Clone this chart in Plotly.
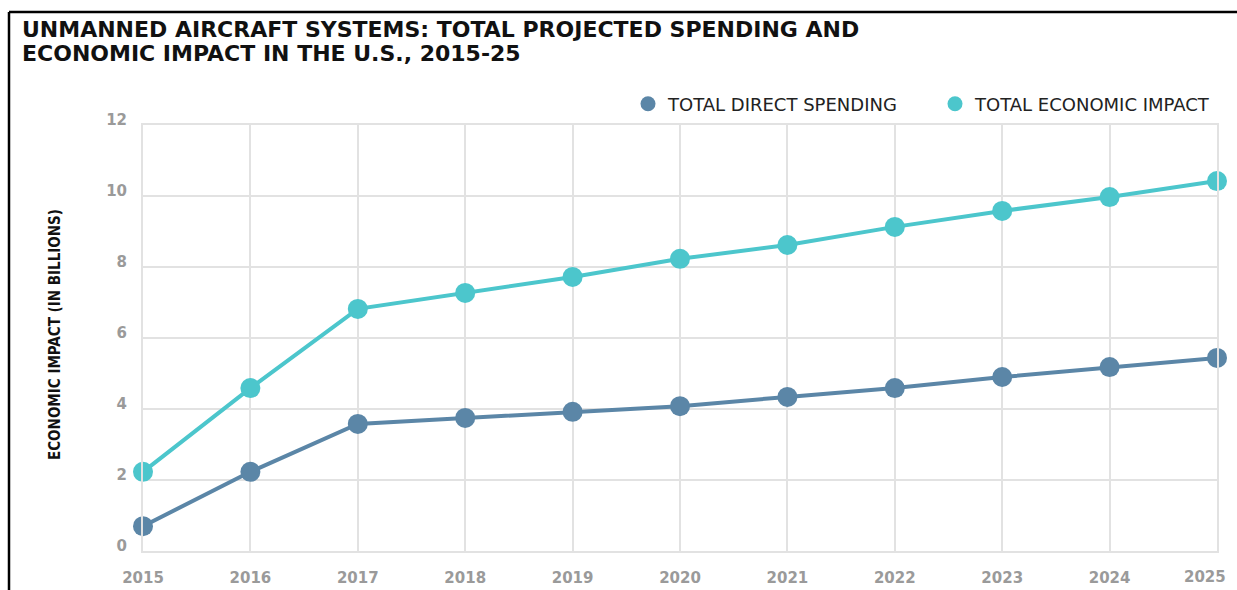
import plotly.graph_objects as go

years = [2015, 2016, 2017, 2018, 2019, 2020, 2021, 2022, 2023, 2024, 2025]
year_labels = ["2015", "2016", "2017", "2018", "2019", "2020", "2021", "2022", "2023", "2024", "2025"]
direct_spending = [0.70, 2.23, 3.58, 3.75, 3.92, 4.08, 4.34, 4.59, 4.90, 5.18, 5.44]
economic_impact = [2.23, 4.59, 6.82, 7.27, 7.72, 8.23, 8.62, 9.13, 9.58, 9.97, 10.42]
y_ticks = [0, 2, 4, 6, 8, 10, 12]
series_names = ["TOTAL DIRECT SPENDING", "TOTAL ECONOMIC IMPACT"]
title_lines = ["UNMANNED AIRCRAFT SYSTEMS: TOTAL PROJECTED SPENDING AND",
               "ECONOMIC IMPACT IN THE U.S., 2015-25"]

c_direct = "#5b86a7"
c_econ = "#4cc6cc"
grid = "#e2e2e2"
tickfont = dict(family="DejaVu Sans, sans-serif", size=15, color="#9a9a9a", weight="bold")

fig = go.Figure()
for vals, col in [(direct_spending, c_direct), (economic_impact, c_econ)]:
    fig.add_trace(go.Scatter(x=years, y=vals, mode="lines+markers",
                             line=dict(color=col, width=4),
                             marker=dict(color=col, size=20),
                             showlegend=False, cliponaxis=False, hoverinfo="x+y"))
for name, col in zip(series_names, [c_direct, c_econ]):
    fig.add_trace(go.Scatter(x=[None], y=[None], mode="markers", name=name,
                             marker=dict(color=col, size=15)))

L, R, T, B = 143, 20, 125, 39
W, H = 1237, 590
pw, ph = W - L - R, H - T - B

def px_x(x):
    return (x - L) / pw

def px_y(y):
    return (H - B - y) / ph

title_font = dict(family="DejaVu Sans, sans-serif", size=22, color="#111111", weight="bold")
annotations = [
    dict(text=line, xref="paper", yref="paper", x=px_x(20), y=px_y(yc),
         xanchor="left", yanchor="middle", showarrow=False, font=title_font)
    for line, yc in zip(title_lines, [29, 54])
]
annotations.append(
    dict(text="ECONOMIC IMPACT (IN BILLIONS)", textangle=-90,
         xref="paper", yref="paper", x=px_x(55), y=px_y(335),
         xanchor="center", yanchor="middle", showarrow=False,
         font=dict(family="DejaVu Sans Condensed, Liberation Sans Narrow, sans-serif",
                   size=15, color="#111111", weight="bold")))
# last year label sits just inside the right edge, as in the original
annotations.append(
    dict(text=year_labels[-1], xref="x", x=years[-1], yref="paper", y=px_y(577),
         xanchor="center", yanchor="middle", xshift=-12, showarrow=False, font=tickfont))

fig.update_layout(
    width=W, height=H,
    margin=dict(l=L, r=R, t=T, b=B, autoexpand=False),
    paper_bgcolor="white", plot_bgcolor="white",
    legend=dict(orientation="h", x=px_x(628), xanchor="left", y=px_y(104), yanchor="middle",
                font=dict(family="DejaVu Sans, sans-serif", size=18, color="#222222"),
                entrywidth=262, entrywidthmode="pixels",
                tracegroupgap=0, bgcolor="rgba(0,0,0,0)"),
    xaxis=dict(range=[2015, 2025], tickvals=years, ticktext=year_labels[:-1] + [""],
               showgrid=True, gridcolor=grid, gridwidth=2, zeroline=False,
               showline=True, linecolor=grid, linewidth=2, mirror=True,
               ticks="outside", ticklen=12, tickcolor="rgba(0,0,0,0)",
               tickfont=tickfont),
    yaxis=dict(range=[0, 12], tickvals=y_ticks, showgrid=True, gridcolor=grid, gridwidth=2,
               zeroline=False, showline=True, linecolor=grid, linewidth=2, mirror=True,
               ticks="outside", ticklen=11, tickcolor="rgba(0,0,0,0)",
               ticklabelshift=-5, tickfont=tickfont),
    annotations=annotations,
    shapes=[
        dict(type="line", xref="paper", yref="paper", x0=px_x(9), x1=px_x(W + 5),
             y0=px_y(12), y1=px_y(12), line=dict(color="#000000", width=2.5)),
        dict(type="line", xref="paper", yref="paper", x0=px_x(9), x1=px_x(9),
             y0=px_y(12), y1=px_y(H + 5), line=dict(color="#000000", width=2.5)),
    ],
)

fig.write_html("out.html", config={"displayModeBar": False},
               post_script="document.body.style.margin='0';document.body.style.padding='0';")
